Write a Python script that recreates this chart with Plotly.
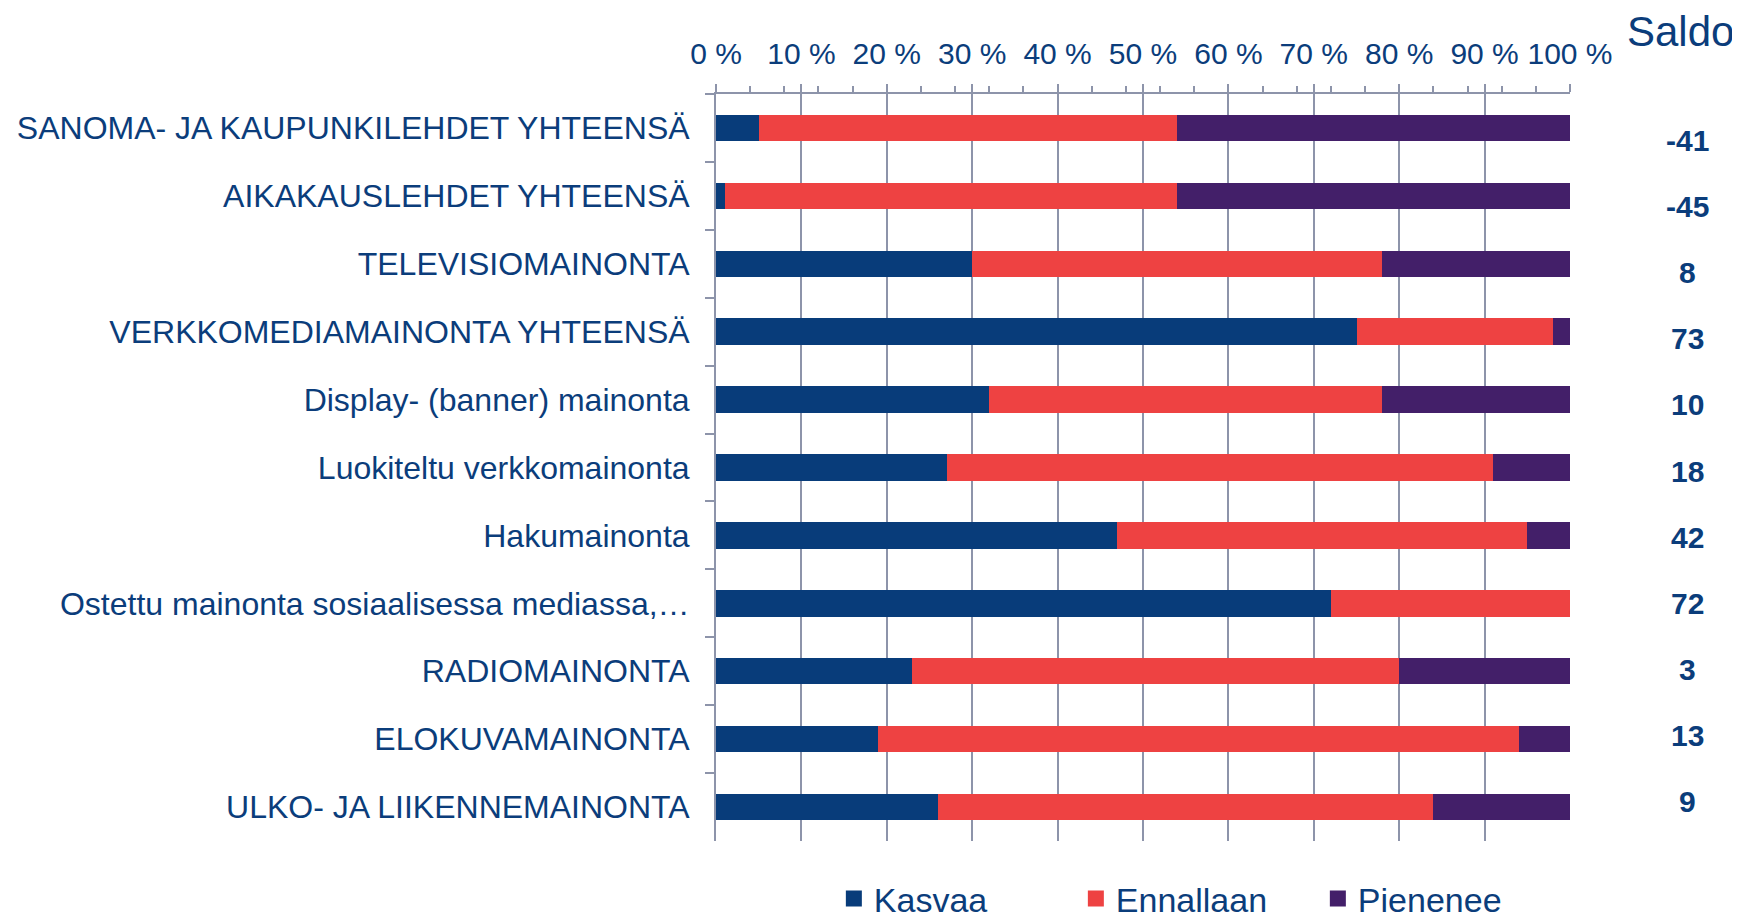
import plotly.graph_objects as go

categories = [
    "SANOMA- JA KAUPUNKILEHDET YHTEENSÄ",
    "AIKAKAUSLEHDET YHTEENSÄ",
    "TELEVISIOMAINONTA",
    "VERKKOMEDIAMAINONTA YHTEENSÄ",
    "Display- (banner) mainonta",
    "Luokiteltu verkkomainonta",
    "Hakumainonta",
    "Ostettu mainonta sosiaalisessa mediassa,…",
    "RADIOMAINONTA",
    "ELOKUVAMAINONTA",
    "ULKO- JA LIIKENNEMAINONTA",
]
kasvaa = [5, 1, 30, 75, 32, 27, 47, 72, 23, 19, 26]
ennallaan = [49, 53, 48, 23, 46, 64, 48, 28, 57, 75, 58]
pienenee = [46, 46, 22, 2, 22, 9, 5, 0, 20, 6, 16]
saldo = [-41, -45, 8, 73, 10, 18, 42, 72, 3, 13, 9]
tick_vals = list(range(0, 101, 10))
tick_text = [f"{v} %" for v in tick_vals]

BLUE = "#083C7A"
RED = "#EE4242"
PURPLE = "#431F69"
TXT = "#0B3D7B"
GRID = "#8D94AA"
FONT = "Liberation Sans, Arial, sans-serif"

fig = go.Figure()
for name, vals, col in [("Kasvaa", kasvaa, BLUE), ("Ennallaan", ennallaan, RED), ("Pienenee", pienenee, PURPLE)]:
    fig.add_trace(go.Bar(
        y=categories, x=vals, name=name, orientation="h",
        marker=dict(color=col, line=dict(width=0)),
        width=0.39, showlegend=False, hoverinfo="x+name",
    ))
    fig.add_trace(go.Scatter(
        x=[None], y=[None], mode="markers", name=name,
        marker=dict(symbol="square", size=19, color=col),
        showlegend=True,
    ))

# Saldo column
for i, (c, s) in enumerate(zip(categories, saldo)):
    fig.add_annotation(
        x=1.138, xref="paper", y=c, yref="y", text=f"<b>{s}</b>",
        showarrow=False, xanchor="center", yanchor="middle",
        yshift=-(13 - 1.9 * i),
        font=dict(family=FONT, size=30, color=TXT),
    )
fig.add_annotation(
    x=1.129, xref="paper", y=1.084, yref="paper", text="Saldo",
    showarrow=False, xanchor="center", yanchor="middle",
    font=dict(family=FONT, size=42, color=TXT),
)

fig.update_layout(
    width=1732, height=912,
    margin=dict(l=708, r=170, t=86, b=79, autoexpand=False),
    paper_bgcolor="white", plot_bgcolor="white",
    barmode="stack",
    font=dict(family=FONT, color=TXT),
    legend=dict(
        orientation="h", x=0.138, xanchor="left", y=-0.0776, yanchor="middle",
        font=dict(family=FONT, size=34, color=TXT),
        entrywidth=197, entrywidthmode="pixels",
        bgcolor="rgba(0,0,0,0)", traceorder="normal",
    ),
    xaxis=dict(
        side="top", range=[0, 100], tickvals=tick_vals, ticktext=tick_text,
        showgrid=True, gridcolor=GRID, gridwidth=2,
        showline=True, linecolor=GRID, linewidth=2,
        ticks="outside", ticklen=8, tickcolor=GRID, tickwidth=2,
        minor=dict(dtick=4, ticks="outside", ticklen=6, tickcolor=GRID, tickwidth=2, showgrid=False),
        tickfont=dict(family=FONT, size=30, color=TXT),
        ticklabelstandoff=8,
        zeroline=False, fixedrange=True,
    ),
    yaxis=dict(
        type="category", autorange="reversed",
        categoryorder="array", categoryarray=categories,
        showline=True, linecolor=GRID, linewidth=2,
        ticks="outside", ticklen=9, tickcolor=GRID, tickwidth=2,
        tickson="boundaries", showgrid=False,
        tickfont=dict(family=FONT, size=32, color=TXT),
        ticklabelstandoff=18,
        fixedrange=True,
    ),
)

fig.write_html("out.html")
